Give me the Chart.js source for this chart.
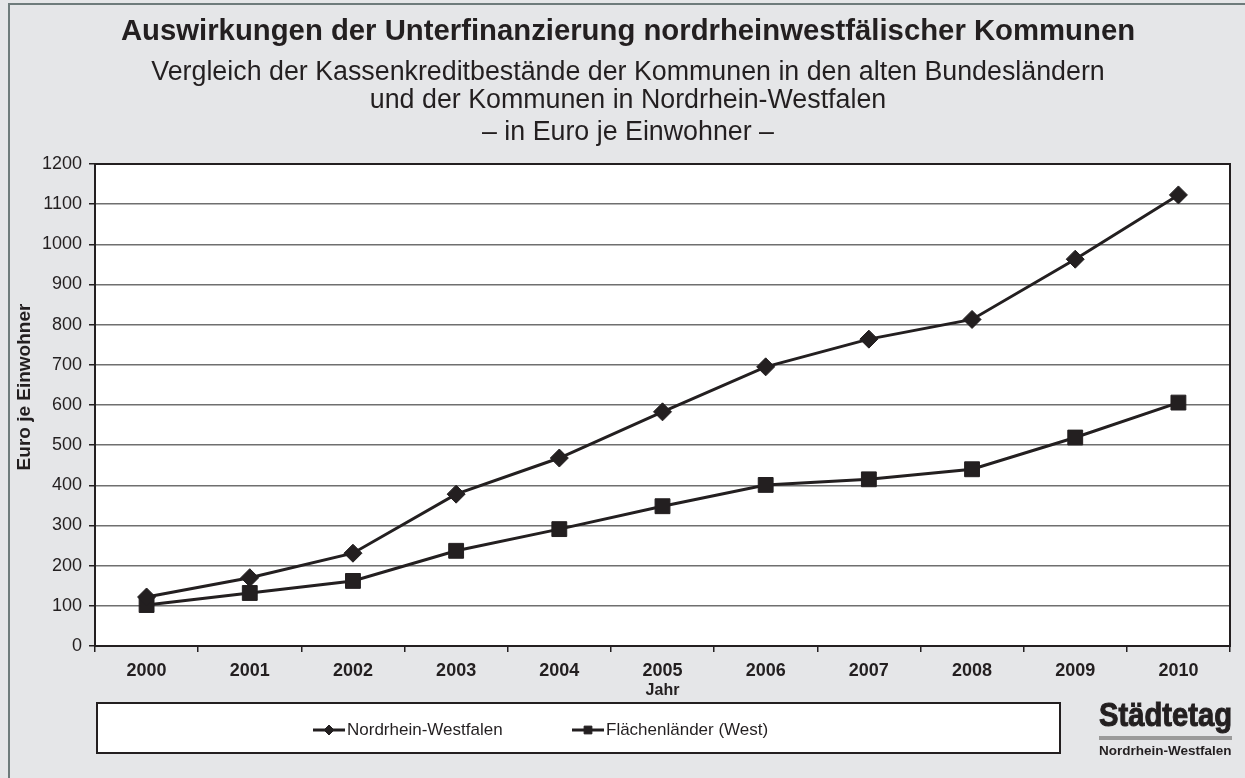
<!DOCTYPE html>
<html>
<head>
<meta charset="utf-8">
<script src="https://cdn.jsdelivr.net/npm/chart.js@4/dist/chart.umd.min.js"></script>
<style>
  body { margin: 0; background: #e5e6e8; }
  canvas { display: block; }
</style>
</head>
<body>
<canvas id="myChart" width="1245" height="778"></canvas>
<script>
    // data
    const years = ['2000', '2001', '2002', '2003', '2004', '2005', '2006', '2007', '2008', '2009', '2010'];
    const nrw = [122, 170, 231, 378, 468, 583, 695, 764, 813, 963, 1123];
    const west = [102, 132, 162, 237, 291, 348, 401, 415, 440, 519, 606];
    const seriesNames = ['Nordrhein-Westfalen', 'Flächenländer (West)'];

    const ink = '#231f20';
    const font = '"Liberation Sans", Arial, sans-serif';

    const data = {
      labels: years,
      datasets: [
        {
          label: seriesNames[0],
          data: nrw,
          borderColor: ink,
          backgroundColor: ink,
          borderWidth: 3,
          pointStyle: 'rectRot',
          pointRadius: 9,
          pointBorderWidth: 1,
        },
        {
          label: seriesNames[1],
          data: west,
          borderColor: ink,
          backgroundColor: ink,
          borderWidth: 3,
          pointStyle: 'rect',
          pointRadius: 10.5,
          pointBorderWidth: 1,
        },
      ],
    };

    // background, titles, plot box
    const frame = {
      id: 'frame',
      beforeDraw(chart) {
        const { ctx, chartArea: a } = chart;
        ctx.save();
        ctx.fillStyle = '#e5e6e8';
        ctx.fillRect(0, 0, chart.width, chart.height);
        ctx.strokeStyle = '#6e7b7b';
        ctx.lineWidth = 2;
        ctx.strokeRect(9, 4, chart.width + 20, chart.height + 20);
        ctx.fillStyle = '#fff';
        ctx.fillRect(a.left, a.top, a.right - a.left, a.bottom - a.top);

        ctx.fillStyle = ink;
        ctx.textAlign = 'center';
        ctx.textBaseline = 'middle';
        ctx.font = 'bold 29.3px ' + font;
        ctx.fillText('Auswirkungen der Unterfinanzierung nordrheinwestfälischer Kommunen', 628, 32);
        ctx.font = '26.8px ' + font;
        ctx.fillText('Vergleich der Kassenkreditbestände der Kommunen in den alten Bundesländern', 628, 73);
        ctx.fillText('und der Kommunen in Nordrhein-Westfalen', 628, 101);
        ctx.fillText('– in Euro je Einwohner –', 628, 133);

        // y axis title
        ctx.save();
        ctx.translate(25, 387);
        ctx.rotate(-Math.PI / 2);
        ctx.font = 'bold 19px ' + font;
        ctx.fillText('Euro je Einwohner', 0, 0);
        ctx.restore();
        ctx.restore();
      },
      beforeDatasetsDraw(chart) {
        const { ctx, chartArea: a } = chart;
        ctx.save();
        ctx.strokeStyle = ink;
        ctx.lineWidth = 2;
        ctx.strokeRect(a.left, a.top, a.right - a.left, a.bottom - a.top);
        ctx.restore();
      },
      afterDraw(chart) {
        const { ctx } = chart;
        ctx.save();
        // legend box
        ctx.fillStyle = '#fff';
        ctx.fillRect(97, 703, 963, 50);
        ctx.strokeStyle = ink;
        ctx.lineWidth = 2;
        ctx.strokeRect(97, 703, 963, 50);

        const items = [
          { x: 313, style: 'rectRot', r: 5 },
          { x: 572, style: 'rect', r: 5.5 },
        ];
        const ly = 730;
        items.forEach((it, i) => {
          ctx.strokeStyle = ink;
          ctx.lineWidth = 3;
          ctx.beginPath();
          ctx.moveTo(it.x, ly);
          ctx.lineTo(it.x + 32, ly);
          ctx.stroke();
          ctx.fillStyle = ink;
          ctx.lineWidth = 1;
          Chart.helpers.drawPoint(ctx, { pointStyle: it.style, radius: it.r, rotation: 0, borderWidth: 1 }, it.x + 16, ly);
          ctx.fillStyle = ink;
          ctx.font = '17px ' + font;
          ctx.textAlign = 'left';
          ctx.textBaseline = 'middle';
          ctx.fillText(seriesNames[i], it.x + 34, ly);
        });

        // logo
        ctx.fillStyle = ink;
        ctx.strokeStyle = ink;
        ctx.lineWidth = 1;
        ctx.textAlign = 'left';
        ctx.textBaseline = 'alphabetic';
        ctx.font = 'bold 33px ' + font;
        ctx.fillText('Städtetag', 1099, 726, 133);
        ctx.strokeText('Städtetag', 1099, 726, 133);
        ctx.fillStyle = '#9a9a9a';
        ctx.fillRect(1099, 736, 133, 4);
        ctx.fillStyle = ink;
        ctx.font = 'bold 13.5px ' + font;
        ctx.fillText('Nordrhein-Westfalen', 1099, 755, 133);
        ctx.restore();
      },
    };

    // config
    const config = {
      type: 'line',
      data,
      options: {
        responsive: false,
        animation: false,
        layout: { padding: { left: 9, right: 15, top: 164, bottom: 78 } },
        plugins: {
          legend: { display: false },
          tooltip: { enabled: false },
        },
        scales: {
          x: {
            offset: true,
            grid: {
              offset: true,
              drawOnChartArea: false,
              tickLength: 6,
              color: ink,
              lineWidth: 1.5,
            },
            border: { color: ink, width: 2 },
            ticks: {
              color: ink,
              padding: 8,
              font: { family: font, size: 18, weight: 'bold' },
            },
            title: {
              display: true,
              text: 'Jahr',
              color: ink,
              padding: 0,
              font: { family: font, size: 16, weight: 'bold' },
            },
            afterFit(scale) { scale.height = 54; },
          },
          y: {
            min: 0,
            max: 1200,
            ticks: {
              stepSize: 100,
              color: ink,
              padding: 7,
              font: { family: font, size: 18 },
              callback: (v) => String(v),
            },
            grid: {
              color: '#6f6f6f',
              lineWidth: 1.5,
              tickLength: 6,
              tickColor: ink,
            },
            border: { color: ink, width: 2 },
            afterFit(scale) { scale.width = 86; },
          },
        },
      },
      plugins: [frame],
    };

    const myChart = new Chart(document.getElementById('myChart'), config);
</script>
</body>
</html>
